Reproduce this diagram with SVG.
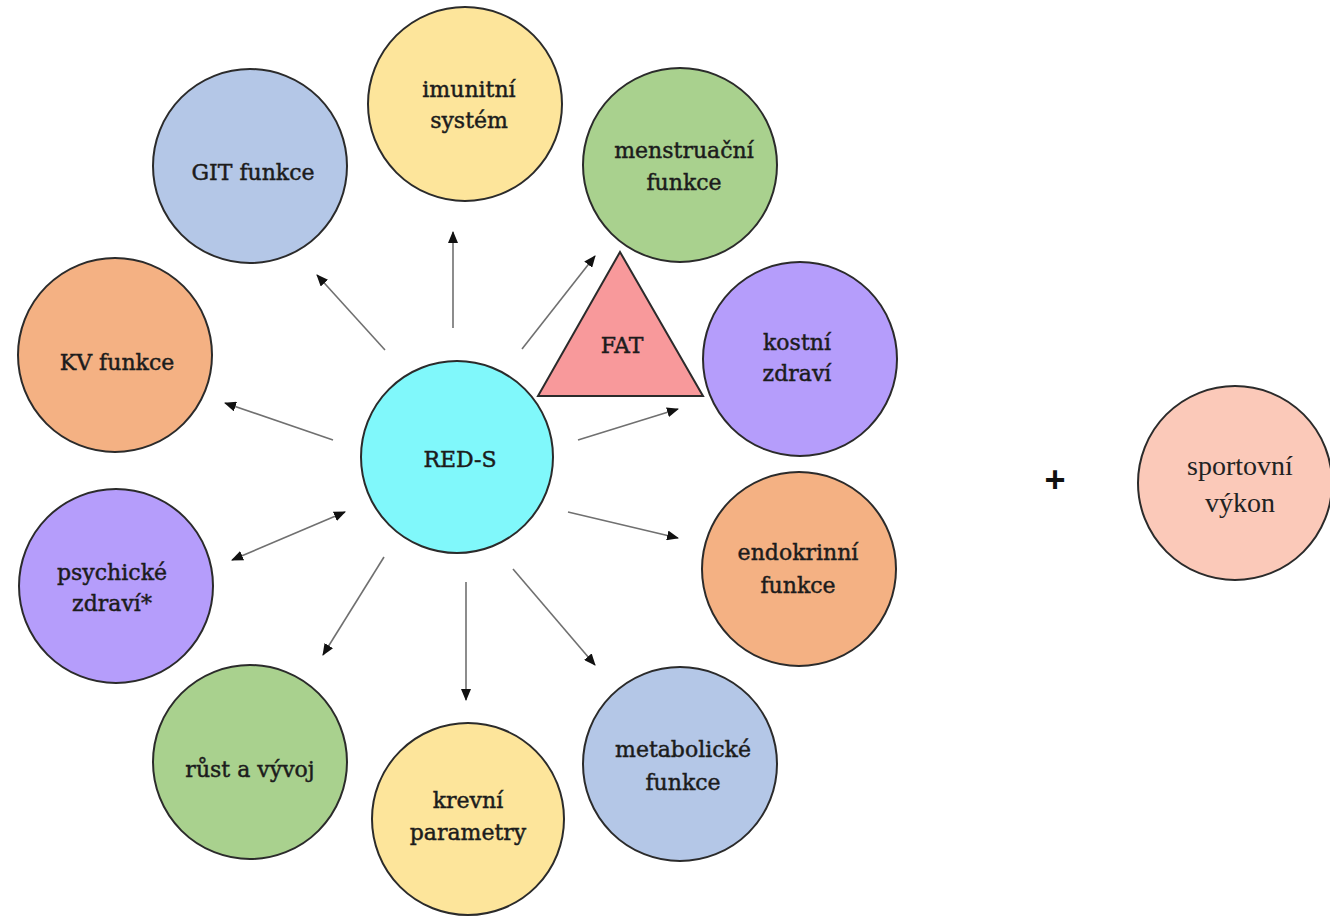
<svg xmlns="http://www.w3.org/2000/svg" width="1330" height="917" viewBox="0 0 1330 917">
<defs>
<marker id="ah" viewBox="0 0 12 10" markerWidth="12" markerHeight="10" refX="11" refY="5" orient="auto-start-reverse" markerUnits="userSpaceOnUse">
<path d="M0,0 L12,5 L0,10 z" fill="#111"/>
</marker>
<style>
.n{stroke:#2b2b2b;stroke-width:2}
.t{font-family:"DejaVu Serif","Liberation Serif",serif;font-size:22px;text-anchor:middle;fill:#1c1c1c;stroke:#1c1c1c;stroke-width:0.45}
.c{stroke:#707070;stroke-width:1.6;fill:none;marker-end:url(#ah)}
.yel{fill:#fde59b}.blu{fill:#b4c7e7}.grn{fill:#a9d18e}.org{fill:#f4b183}.pur{fill:#b59dfb}
</style>
</defs>
<rect width="1330" height="917" fill="#fff"/>
<g id="connectors">
<line class="c" x1="453" y1="328" x2="453" y2="232"/>
<line class="c" x1="385" y1="350" x2="317" y2="275"/>
<line class="c" x1="522" y1="349" x2="595" y2="256"/>
<line class="c" x1="333" y1="440" x2="225" y2="403"/>
<line class="c" x1="578" y1="440" x2="678" y2="409"/>
<line class="c" x1="568" y1="512" x2="678" y2="538"/>
<line class="c" x1="232" y1="560" x2="345" y2="512" style="marker-start:url(#ah)"/>
<line class="c" x1="384" y1="557" x2="323" y2="655"/>
<line class="c" x1="466" y1="582" x2="466" y2="700"/>
<line class="c" x1="513" y1="569" x2="595" y2="665"/>
</g>
<g id="imunitni"><circle class="n yel" cx="465" cy="104" r="97"/><text class="t" x="469" y="97">imunitní</text><text class="t" x="469" y="128">systém</text></g>
<g id="git"><circle class="n blu" cx="250" cy="166" r="97"/><text class="t" x="253" y="180">GIT funkce</text></g>
<g id="menstruacni"><circle class="n grn" cx="680" cy="165" r="97"/><text class="t" x="684" y="158">menstruační</text><text class="t" x="684" y="190">funkce</text></g>
<g id="kv"><circle class="n org" cx="115" cy="355" r="97"/><text class="t" x="117" y="370">KV funkce</text></g>
<g id="kostni"><circle class="n pur" cx="800" cy="359" r="97"/><text class="t" x="797" y="350">kostní</text><text class="t" x="797" y="381">zdraví</text></g>
<g id="fat"><polygon class="n" points="620,252 538,396 703,396" fill="#f8999b"/><text class="t" x="622" y="353">FAT</text></g>
<g id="reds"><circle class="n" cx="457" cy="457" r="96" fill="#80f8fb"/><text class="t" x="460" y="467">RED-S</text></g>
<g id="psychicke"><circle class="n pur" cx="116" cy="586" r="97"/><text class="t" x="112" y="580">psychické</text><text class="t" x="112" y="611">zdraví*</text></g>
<g id="endokrinni"><circle class="n org" cx="799" cy="569" r="97"/><text class="t" x="798" y="560">endokrinní</text><text class="t" x="798" y="593">funkce</text></g>
<g id="rust"><circle class="n grn" cx="250" cy="762" r="97"/><text class="t" x="250" y="777">růst a vývoj</text></g>
<g id="krevni"><circle class="n yel" cx="468" cy="819" r="96"/><text class="t" x="468" y="808">krevní</text><text class="t" x="468" y="840">parametry</text></g>
<g id="metabolicke"><circle class="n blu" cx="680" cy="764" r="97"/><text class="t" x="683" y="757">metabolické</text><text class="t" x="683" y="790">funkce</text></g>
<text x="1055" y="492" font-family="Liberation Sans, sans-serif" font-size="36" font-weight="bold" text-anchor="middle" fill="#111">+</text>
<g id="sportovni"><circle class="n" cx="1235" cy="483" r="97" fill="#fbc9b9"/><text x="1240" y="475" font-family="Liberation Serif, serif" font-size="28" text-anchor="middle" fill="#222">sportovní</text><text x="1240" y="512" font-family="Liberation Serif, serif" font-size="28" text-anchor="middle" fill="#222">výkon</text></g>
</svg>
